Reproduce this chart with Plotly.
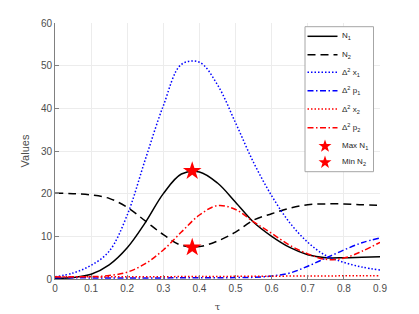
import math
import plotly.graph_objects as go

tau = [0, 0.05, 0.1, 0.15, 0.2, 0.25, 0.3, 0.35, 0.4, 0.45, 0.5,
       0.55, 0.6, 0.65, 0.7, 0.75, 0.8, 0.85, 0.9]
N1 = [0.1, 0.35, 1.1, 3.3, 7.3, 13.2, 20.0, 24.6, 25.1, 22.5, 18.0,
      13.3, 10.0, 7.4, 5.7, 5.0, 5.0, 5.1, 5.2]
N2 = [20.1, 20.0, 19.7, 18.9, 16.8, 13.6, 10.4, 7.9, 7.6, 8.9, 11.0,
      13.8, 15.3, 16.6, 17.4, 17.6, 17.6, 17.4, 17.3]
dx1 = [0.5, 1.4, 3.2, 6.5, 15.0, 28.0, 40.6, 50.3, 50.8, 45.5, 36.6,
       27.3, 19.5, 13.2, 8.6, 5.5, 3.9, 2.8, 2.1]
dp1 = [0.3, 0.28, 0.26, 0.25, 0.25, 0.25, 0.26, 0.27, 0.28, 0.3, 0.33,
       0.4, 0.7, 1.4, 3.0, 4.9, 6.8, 8.5, 9.6]
dx2 = [0.5, 0.5, 0.5, 0.5, 0.52, 0.53, 0.55, 0.56, 0.58, 0.6, 0.62,
       0.64, 0.66, 0.68, 0.7, 0.72, 0.74, 0.76, 0.78]
dp2 = [0.5, 0.5, 0.55, 0.8, 1.6, 3.6, 6.8, 11.0, 15.0, 17.2, 16.3,
       13.4, 10.7, 7.9, 5.9, 4.6, 4.9, 6.5, 8.6]
max_tau, max_val = [0.38], [25.3]
min_tau, min_val = [0.38], [7.4]

labels = ["N<sub>1</sub>", "N<sub>2</sub>", "Δ<sup>2</sup> x<sub>1</sub>",
          "Δ<sup>2</sup> p<sub>1</sub>", "Δ<sup>2</sup> x<sub>2</sub>",
          "Δ<sup>2</sup> p<sub>2</sub>", "Max N<sub>1</sub>", "Min N<sub>2</sub>"]

W, H = 419, 314
L, R, T, B = 55, 39, 23, 35
PW, PH = W - L - R, H - T - B


def fx(p):
    return (p - L) / PW


def fy(p):
    return (T + PH - p) / PH


fig = go.Figure()
series = [
    (N1, "black", "solid"),
    (N2, "black", "8px,5px"),
    (dx1, "#0000ff", "1.5px,2px"),
    (dp1, "#0000ff", "6px,2.5px,1.5px,2.5px"),
    (dx2, "#ff0000", "1.5px,2px"),
    (dp2, "#ff0000", "6px,2.5px,1.5px,2.5px"),
]
for (ys, col, dash), lab in zip(series, labels):
    fig.add_trace(go.Scatter(x=tau, y=ys, mode="lines", name=lab, showlegend=False,
                             line=dict(color=col, dash=dash, width=1.5,
                                       shape="spline", smoothing=1.0)))
for xs, ys, lab in [(max_tau, max_val, labels[6]), (min_tau, min_val, labels[7])]:
    fig.add_trace(go.Scatter(x=xs, y=ys, mode="markers", name=lab, showlegend=False,
                             marker=dict(symbol="star", size=14, color="#ff0000",
                                         line=dict(width=0))))

# ---- legend box drawn manually (to match compact MATLAB legend) ----
rows = [36.3, 54.7, 72.3, 90.7, 109.0, 127.7, 145.7, 161.9]
shapes = [dict(type="rect", xref="paper", yref="paper",
               x0=fx(305), x1=fx(373.5), y0=fy(171.7), y1=fy(26.7),
               fillcolor="white", line=dict(color="#a6a6a6", width=1), layer="above")]
for (ys, col, dash), ry in zip(series, rows[:6]):
    shapes.append(dict(type="line", xref="paper", yref="paper",
                       x0=fx(307.5), x1=fx(337.5), y0=fy(ry), y1=fy(ry),
                       line=dict(color=col, dash=dash, width=1.5), layer="above"))


def star_path(cx, cy, ro, ri):
    pts = []
    for i in range(10):
        a = math.radians(-90 + 36 * i)
        r = ro if i % 2 == 0 else ri
        pts.append((fx(cx + r * math.cos(a)), fy(cy + r * math.sin(a))))
    return "M " + " L ".join(f"{x:.5f},{y:.5f}" for x, y in pts) + " Z"


for ry in rows[6:]:
    shapes.append(dict(type="path", xref="paper", yref="paper",
                       path=star_path(325, ry + 0.5, 6.8, 2.7),
                       fillcolor="#ff0000", line=dict(width=0), layer="above"))

annotations = []
for lab, ry in zip(labels, rows):
    annotations.append(dict(text=lab, xref="paper", yref="paper",
                            x=fx(339.5), y=fy(ry), xanchor="left", yanchor="middle",
                            showarrow=False,
                            font=dict(family="Liberation Sans", size=8, color="#262626")))

axis_common = dict(showline=True, linecolor="#808080", linewidth=1,
                   ticks="inside", ticklen=4, tickcolor="#808080",
                   showgrid=True, gridcolor="#ececec", zeroline=False,
                   automargin=False,
                   tickfont=dict(family="Liberation Sans", size=10, color="#4d4d4d"))
fig.update_xaxes(range=[0, 0.9], dtick=0.1, tick0=0,
                 title=dict(text="τ", font=dict(family="DejaVu Serif", size=10, color="#4d4d4d"),
                            standoff=9),
                 **axis_common)
fig.update_yaxes(range=[0, 60], dtick=10, tick0=0,
                 title=dict(text="Values", font=dict(family="Liberation Sans", size=11, color="#4d4d4d"),
                            standoff=9),
                 **axis_common)

fig.update_layout(
    width=W, height=H,
    margin=dict(l=L, r=R, t=T, b=B),
    plot_bgcolor="white", paper_bgcolor="white",
    showlegend=False,
    shapes=shapes,
    annotations=annotations,
)
fig.write_html("out.html", config={"displayModeBar": False},
               post_script="document.body.style.margin='0';")
